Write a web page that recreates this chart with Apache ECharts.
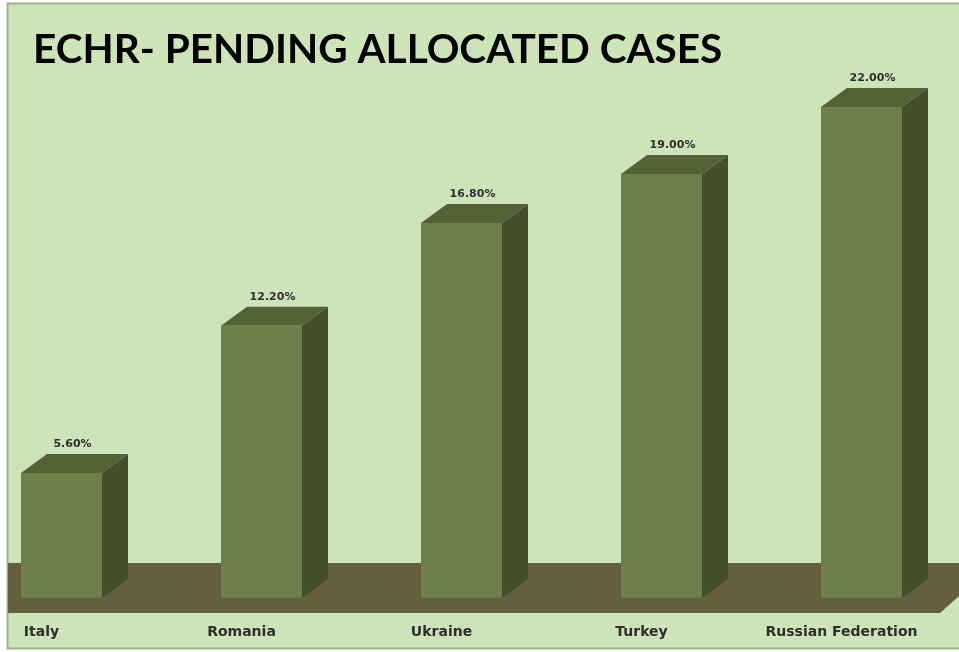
<!DOCTYPE html>
<html>
<head>
<meta charset="utf-8">
<script src="https://cdn.jsdelivr.net/npm/echarts@6/dist/echarts.min.js"></script>
<style>html,body{margin:0;padding:0;background:#fff}#c{width:959px;height:652px}</style>
</head>
<body>
<div id="c"></div>
<script>
const categories = ['Italy', 'Romania', 'Ukraine', 'Turkey', 'Russian Federation'];
const values = [5.6, 12.2, 16.8, 19.0, 22.0];
const titleText = 'ECHR- PENDING ALLOCATED CASES';

const chart = echarts.init(document.getElementById('c'), null, {renderer: 'canvas'});
const DX = 26, DY = 19, HALF = 40.5;

function renderBar(params, api) {
  const idx = api.value(0), v = api.value(1);
  const base = api.coord([idx, 0]);
  const top = api.coord([idx, v]);
  const cx = base[0], B = base[1], T = top[1];
  const L = cx - HALF, R = cx + HALF;
  return {
    type: 'group',
    children: [
      {type: 'polygon', shape: {points: [[R, T], [R + DX, T - DY], [R + DX, B - DY], [R, B]]},
        style: {fill: '#444f2d'}},
      {type: 'polygon', shape: {points: [[L, T], [L + DX, T - DY], [R + DX, T - DY], [R, T]]},
        style: {fill: '#536335'}},
      {type: 'rect', shape: {x: L, y: T, width: R - L, height: B - T},
        style: {fill: '#6d7f4b'}},
      {type: 'text', style: {x: cx + 11, y: T - DY - 4, text: v.toFixed(2) + '%',
        align: 'center', verticalAlign: 'bottom', fill: '#2e2e2e',
        font: 'bold 11px "DejaVu Sans"'}}
    ]
  };
}

chart.setOption({
  animation: false,
  backgroundColor: '#ffffff',
  grid: {left: 61.5, right: 97.5, top: 40, bottom: 54},
  xAxis: {
    type: 'category', data: categories, boundaryGap: false,
    axisLine: {show: false}, axisTick: {show: false}, splitLine: {show: false},
    axisLabel: {
      margin: 27, interval: 0,
      formatter: v => '{a|' + v + '}',
      rich: {a: {padding: [0, 40, 0, 0], fontFamily: 'DejaVu Sans', fontWeight: 'bold',
        fontSize: 14, color: '#2e2e2e'}}
    }
  },
  yAxis: {type: 'value', min: 0, max: 25, show: false, splitLine: {show: false}},
  series: [{
    type: 'custom', z: 5,
    data: values.map((v, i) => [i, v]),
    renderItem: renderBar
  }]
});

const y0 = chart.convertToPixel({gridIndex: 0}, [0, 0])[1];
const W = chart.getWidth(), H = chart.getHeight();
chart.setOption({
  graphic: [
    {type: 'rect', z: -10, silent: true,
      shape: {x: 7.5, y: 3.5, width: W, height: H - 7},
      style: {fill: '#cde3b8', stroke: '#9fb08e', lineWidth: 2}},
    {type: 'polygon', z: -5, silent: true,
      shape: {points: [[8, y0 - 35], [W, y0 - 35], [W, y0 - 2], [W - 19, y0 + 15], [8, y0 + 15]]},
      style: {fill: '#665f3d'}},
    {type: 'text', z: 10, left: 33, top: 29,
      style: {text: titleText, font: 'bold 40.5px Lato', fill: '#000000'}}
  ]
});
</script>
</body>
</html>
